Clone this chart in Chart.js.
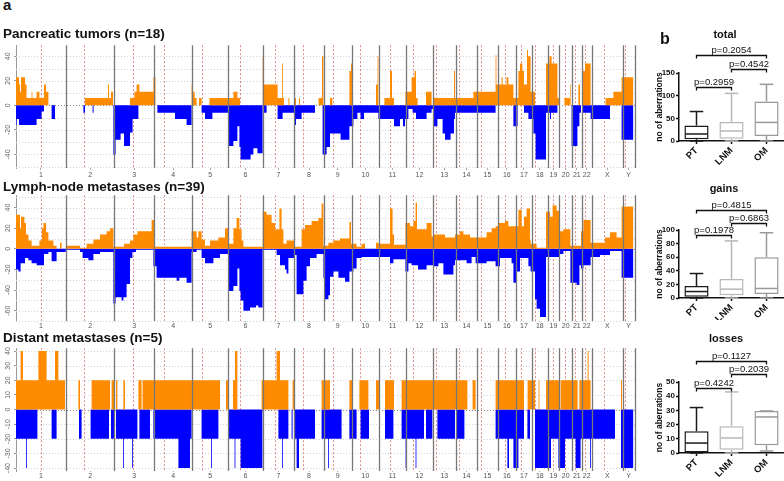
<!DOCTYPE html>
<html lang="en">
<head>
<meta charset="UTF-8">
<title>Copy number aberrations</title>
<script src="https://cdn.jsdelivr.net/npm/chart.js"></script>
<style>
  * { margin: 0; padding: 0; box-sizing: border-box; }
  body { width: 784px; height: 481px; background: #fff; position: relative; overflow: hidden;
         font-family: Arial, "Liberation Sans", sans-serif; }
  canvas { position: absolute; }
  .lbl { position: absolute; font-weight: bold; color: #111; white-space: nowrap; line-height: 1; z-index: 2; }
  .ctr { text-align: center; width: 90px; }
</style>
</head>
<body>

<div class="lbl" style="left:3px;top:-3px;font-size:15px">a</div>
<div class="lbl" style="left:660px;top:31px;font-size:16px">b</div>

<div class="lbl" style="left:3px;top:27px;font-size:13.5px">Pancreatic tumors (n=18)</div>
<div class="lbl" style="left:3px;top:180px;font-size:13.5px">Lymph-node metastases (n=39)</div>
<div class="lbl" style="left:3px;top:331px;font-size:13.5px">Distant metastases (n=5)</div>

<div class="lbl ctr" style="left:680px;top:29px;font-size:11px">total</div>
<div class="lbl ctr" style="left:679px;top:183px;font-size:11px">gains</div>
<div class="lbl ctr" style="left:681px;top:333px;font-size:11px">losses</div>

<canvas id="pt" width="640" height="140" style="left:0;top:40px"></canvas>
<canvas id="lnm" width="640" height="141" style="left:0;top:190px"></canvas>
<canvas id="dm" width="640" height="138" style="left:0;top:343px"></canvas>

<canvas id="bTotal" width="144" height="125" style="left:640px;top:40px"></canvas>
<canvas id="bGains" width="144" height="125" style="left:640px;top:195px"></canvas>
<canvas id="bLosses" width="144" height="135" style="left:640px;top:346px"></canvas>

<script>
// ---- genome layout (Mb) ----
const chromNames = ['1','2','3','4','5','6','7','8','9','10','11','12','13','14','15','16','17','18','19','20','21','22','X','Y'];
const chromLengths = [249,243,198,191,181,171,159,146,141,136,135,134,115,107,103,90,81,78,59,63,48,51,155,59];
const centromeres = [125,93,91,50,48,60,60,45,49,40,53,35,17,17,19,36,24,17,26,28,13,15,60,12];

// ---- % of samples with gain / loss, as [start Mb, value] steps ----
const ptGains = [[0,23],[15,17],[20,11],[25,23],[45,17],[53,6],[78,11],[82,6],[103,11],[117,6],[140,17],[150,11],[162,0],
  [345,6],[460,17],[465,6],[475,11],[485,0],[570,6],[592,11],[603,17],[617,11],[687,23],[697,0],
  [878,17],[885,11],[893,6],[903,0],[915,6],[928,0],[967,6],[1087,11],[1107,6],[1120,0],
  [1233,40],[1240,17],[1308,6],[1330,34],[1334,6],[1340,0],[1362,6],[1367,0],[1395,6],[1400,0],[1415,6],[1420,0],
  [1513,6],[1530,40],[1537,0],[1570,6],[1582,0],[1667,28],[1675,34],[1680,0],[1800,17],[1808,40],[1812,0],
  [1842,6],[1870,28],[1880,6],[1890,0],[1947,11],[1978,23],[1993,28],[2000,6],[2008,0],[2050,11],[2078,0],
  [2087,6],[2190,28],[2195,6],[2287,11],[2398,41],[2402,17],[2428,23],[2433,17],[2453,23],[2462,17],
  [2487,6],[2512,28],[2520,34],[2532,28],[2540,17],[2555,45],[2560,40],[2573,11],[2595,0],
  [2650,34],[2667,40],[2678,34],[2707,6],[2715,0],[2742,6],[2770,17],[2773,0],[2812,17],[2820,0],
  [2832,28],[2845,34],[2873,0],[2948,6],[2987,11],[3028,23],[3087,0]];
const ptLosses = [[0,-16],[3,-11],[15,-16],[103,-11],[128,-5],[140,0],[178,-11],[195,0],
  [337,-6],[345,0],[383,-6],[388,0],[487,-40],[498,-28],[523,-23],[540,-33],[570,-22],[583,-11],[612,0],
  [707,-6],[795,-11],[853,-16],[878,0],[928,-6],[945,-11],[982,-6],
  [1062,-33],[1087,-29],[1107,-17],[1117,-34],[1123,-44],[1173,-40],[1187,-35],[1207,-39],[1233,0],
  [1237,-6],[1253,0],[1308,-11],[1333,-6],[1392,-16],[1400,-11],[1428,-6],[1495,0],
  [1533,-40],[1553,-34],[1570,-23],[1623,-28],[1667,-17],[1687,-11],[1707,-6],[1723,-11],[1740,-6],
  [1812,-11],[1890,-17],[1920,-11],[1935,-17],[1945,-11],[1962,-3],[1983,-6],[2000,-11],[2053,-6],[2078,-3],
  [2087,-17],[2107,-11],[2133,-23],[2145,-28],[2173,-23],[2190,-11],[2195,-6],[2398,0],
  [2487,-17],[2508,0],[2540,-6],[2562,-11],[2587,-23],[2598,-44],[2650,-6],[2670,-11],[2675,-6],[2707,0],
  [2778,-33],[2807,-17],[2817,-6],[2825,0],[2833,-6],[2873,-11],[2970,0],[3028,-28],[3087,0]];

const lnmGains = [[0,33],[20,20],[25,31],[42,25],[50,14],[62,8],[78,3],[117,8],[130,20],[137,25],[150,16],[162,8],[187,3],[203,0],[220,6],[228,0],
  [249,3],[320,1],[353,5],[387,9],[420,14],[453,17],[470,20],[487,2],[540,5],[570,8],[587,14],[607,17],[678,28],[690,2],
  [878,17],[903,11],[912,17],[928,9],[945,3],[970,8],[1012,11],[1045,20],[1062,5],[1087,20],[1103,30],[1117,19],[1128,8],[1137,2],
  [1233,36],[1253,33],[1278,25],[1295,19],[1317,39],[1328,19],[1337,5],[1353,8],[1392,2],[1428,19],[1445,23],[1478,27],[1512,30],[1528,44],
  [1537,3],[1562,6],[1587,8],[1620,10],[1667,26],[1675,5],[1703,2],[1728,5],[1745,0],[1800,6],[1812,5],[1870,39],[1883,14],[1890,4],
  [1947,25],[1970,22],[1987,27],[1998,45],[2005,19],[2053,25],[2078,12],[2087,14],[2145,11],[2195,14],[2220,17],[2237,14],[2270,11],
  [2298,11],[2353,16],[2378,20],[2398,22],[2413,25],[2445,27],[2462,22],[2487,22],[2512,38],[2528,22],[2540,31],[2553,39],[2570,9],
  [2573,5],[2603,1],[2650,36],[2670,31],[2683,42],[2703,37],[2715,17],[2737,19],[2772,3],[2825,17],[2837,28],
  [2873,6],[2945,11],[2970,16],[3003,11],[3028,41],[3087,0]];
const lnmLosses = [[0,-20],[12,-22],[23,-14],[45,-9],[62,-11],[78,-14],[103,-16],[140,-5],[162,-3],[178,-12],[203,-3],
  [249,-1],[320,-3],[333,-9],[362,-11],[387,-5],[420,-3],[487,-53],[498,-47],[528,-50],[537,-47],[553,-34],[570,-9],[582,-3],[600,-1],
  [687,-17],[703,-28],[803,-31],[817,-28],[853,-33],[878,-3],[903,-1],[928,-9],[945,-14],[987,-9],[1020,-5],
  [1062,-41],[1087,-36],[1107,-19],[1117,-41],[1123,-50],[1137,-60],[1170,-57],[1200,-55],[1212,-57],
  [1233,-1],[1303,-6],[1320,-16],[1345,-20],[1353,-24],[1362,-9],[1392,-6],[1403,-44],[1437,-31],[1453,-17],[1470,-9],[1503,-5],
  [1537,-28],[1545,-49],[1562,-45],[1570,-27],[1587,-22],[1612,-28],[1645,-32],[1667,-22],[1687,-19],[1703,-9],[1728,-8],
  [1812,-8],[1870,-14],[1887,-10],[1947,-22],[1962,-14],[1978,-16],[2010,-20],[2053,-16],[2087,-17],[2112,-14],[2137,-25],[2187,-16],
  [2195,-11],[2253,-14],[2278,-8],[2298,-14],[2353,-12],[2398,-17],[2420,-9],[2478,-14],[2487,-33],[2503,-22],[2520,-9],[2562,-17],
  [2573,-22],[2595,-49],[2603,-58],[2620,-66],[2650,-8],[2715,-5],[2737,-2],[2772,-33],[2803,-35],[2817,-16],[2825,-19],[2837,-16],
  [2873,-8],[2920,-6],[2970,-2],[3028,-28],[3087,0]];

const dmGains = [[0,20],[23,40],[35,20],[112,40],[153,20],[195,40],[212,20],[245,0],[312,20],[320,0],[378,20],[470,0],
  [478,20],[495,0],[500,20],[507,0],[537,20],[545,0],[612,20],[628,0],[633,20],[1020,0],[1050,20],[1062,0],
  [1085,20],[1095,40],[1107,0],[1228,20],[1303,40],[1320,20],[1362,0],[1383,20],[1395,0],[1528,20],[1570,0],
  [1667,20],[1682,0],[1717,20],[1762,0],[1800,20],[1817,0],[1845,20],[1890,0],[1928,20],[2257,0],[2283,20],[2298,0],
  [2398,20],[2540,0],[2558,20],[2595,0],[2613,20],[2617,0],[2650,20],[2717,0],[2723,20],[2808,0],[2817,20],[2858,40],[2863,20],[2873,0],
  [3025,20],[3030,0]];
const dmLosses = [[0,-20],[51,-40],[55,-20],[107,0],[178,-20],[203,0],[315,-20],[328,0],[373,-20],[465,0],[475,-20],[495,0],
  [500,-20],[535,-40],[539,-20],[581,-40],[585,-20],[607,0],[617,-20],[670,0],[687,-20],[812,-40],[870,-20],[878,0],
  [928,-20],[976,-40],[980,-20],[1012,0],[1062,-20],[1093,-40],[1097,-20],[1123,-40],[1232,0],
  [1312,-20],[1330,-40],[1334,-20],[1362,0],[1378,-20],[1383,0],[1395,-20],[1403,-40],[1415,-20],[1495,0],
  [1528,-20],[1560,-40],[1564,-20],[1628,0],[1667,-20],[1703,0],[1723,-20],[1765,0],[1845,-20],[1887,0],
  [1928,-20],[1948,-40],[1952,-20],[1998,-40],[2002,-20],[2040,0],[2050,-20],[2082,0],[2107,-20],[2195,0],[2200,-20],[2242,0],
  [2398,-20],[2457,-40],[2465,-20],[2487,-40],[2512,-20],[2540,0],[2557,-20],[2570,0],
  [2595,-40],[2675,-20],[2712,-40],[2745,-20],[2798,-40],[2823,-20],[2871,-40],[2875,-20],[2995,0],[3025,-40],[3087,0]];

const ptTicks = [-40,-20,0,20,40];
const lnmTicks = [-60,-40,-20,0,20,40];
const dmTicks = [-40,-30,-20,-10,0,10,20,30,40];

// ---- panel b: box plots ----
const boxCats = ['PT','LNM','OM'];
const totalStats = { min: [0,0,0], q1: [4,5,11], med: [15.5,22,41], q3: [34,42,87], max: [65,105,125] };
const gainsStats = { min: [0,0,0], q1: [2,4,6], med: [9.5,13,14], q3: [17.6,28,60], max: [36,84,96] };
const lossesStats = { min: [0,0,1.4], q1: [0,2.3,5.4], med: [7,10.6,25.4], q3: [15.3,18.8,29.6], max: [32,43,29.6] };
const totalP = [[0,1,120,'p=0.2959'],[1,2,159,'p=0.4542'],[0,2,190,'p=0.2054']];
const gainsP = [[0,1,92.6,'p=0.1978'],[1,2,110,'p=0.6863'],[0,2,129,'p=0.4815']];
const lossesP = [[0,1,45.6,'p=0.4242'],[1,2,55.4,'p=0.2039'],[0,2,65,'p=0.1127']];

const ORANGE = '#FF8C00';
const BLUE = '#0000FF';
const boxColors = ['#1a1a1a', '#b8b8b8', '#999999'];

Chart.defaults.font.family = 'Arial, "Liberation Sans", sans-serif';
Chart.defaults.color = '#111';

const chromStart = [];
chromLengths.reduce((acc, len, i) => { chromStart[i] = acc; return acc + len; }, 0);
const chromMids = chromLengths.map((len, i) => chromStart[i] + len / 2);
const genomeEnd = chromStart[23] + chromLengths[23];

const genomeLines = {
    id: 'genomeLines',
    beforeDatasetsDraw(chart) {
        const { ctx, chartArea: a, scales: { x, y } } = chart;
        ctx.save();
        ctx.lineWidth = 1;
        ctx.setLineDash([1, 2]);
        for (let v = Math.ceil(y.min / 10) * 10; v <= y.max; v += 10) {
            const py = Math.round(y.getPixelForValue(v)) + 0.5;
            ctx.strokeStyle = v === 0 ? '#8a8a8a' : '#d2d2dc';
            ctx.beginPath(); ctx.moveTo(a.left, py); ctx.lineTo(a.right, py); ctx.stroke();
        }
        // centromeres
        ctx.strokeStyle = '#e08a8a';
        ctx.setLineDash([2, 2]);
        centromeres.forEach((c, i) => {
            const px = Math.round(x.getPixelForValue(chromStart[i] + c)) + 0.5;
            ctx.beginPath(); ctx.moveTo(px, a.top); ctx.lineTo(px, a.bottom); ctx.stroke();
        });
        ctx.restore();
    },
    afterDatasetsDraw(chart) {
        const { ctx, chartArea: a, scales: { x } } = chart;
        ctx.save();
        ctx.strokeStyle = '#777';
        ctx.lineWidth = 1.3;
        chromStart.slice(1).concat([genomeEnd]).forEach(b => {
            const px = Math.round(x.getPixelForValue(b)) + 0.5;
            ctx.beginPath(); ctx.moveTo(px, a.top); ctx.lineTo(px, a.bottom); ctx.stroke();
        });
        ctx.restore();
    }
};

function toPoints(pairs) {
    return pairs.map(p => ({ x: p[0], y: p[1] }));
}

function genomeChart(id, gains, losses, yMin, yMax, yTicks, tickLen, tickPad, axisH) {
    return new Chart(document.getElementById(id), {
        type: 'line',
        data: {
            datasets: [
                { data: toPoints(gains), stepped: true, fill: 'origin', backgroundColor: ORANGE, borderColor: ORANGE, borderWidth: 0, pointRadius: 0 },
                { data: toPoints(losses), stepped: true, fill: 'origin', backgroundColor: BLUE, borderColor: BLUE, borderWidth: 0, pointRadius: 0 }
            ]
        },
        options: {
            responsive: false,
            animation: false,
            events: [],
            layout: { padding: { top: 2, right: 4, left: 0, bottom: 0 } },
            plugins: { legend: { display: false }, tooltip: { enabled: false } },
            scales: {
                x: {
                    type: 'linear', min: 0, max: 3100,
                    afterBuildTicks: s => { s.ticks = chromMids.map(v => ({ value: v })); },
                    afterFit: s => { s.height = axisH; },
                    border: { display: false },
                    grid: { drawOnChartArea: false, tickLength: tickLen, tickColor: '#aaa' },
                    ticks: { autoSkip: false, minRotation: 0, maxRotation: 0, padding: tickPad, color: '#555',
                             font: { size: 7 }, callback: (v, i) => chromNames[i] }
                },
                y: {
                    min: yMin, max: yMax,
                    afterBuildTicks: s => { s.ticks = yTicks.map(v => ({ value: v })); },
                    afterFit: s => { s.width = 16; },
                    border: { color: '#999', width: 1 },
                    grid: { drawOnChartArea: false, tickLength: 2, tickColor: '#999' },
                    ticks: { minRotation: 90, maxRotation: 90, crossAlign: 'center', padding: 1, color: '#666', font: { size: 7 } }
                }
            }
        },
        plugins: [genomeLines]
    });
}

genomeChart('pt', ptGains, ptLosses, -51, 49, ptTicks, 2, 1, 12);
genomeChart('lnm', lnmGains, lnmLosses, -70, 52, lnmTicks, 1, 0, 10);
genomeChart('dm', dmGains, dmLosses, -42, 42, dmTicks, 1, 0, 10);

function boxExtras(stats, brackets) {
    return {
        id: 'boxExtras',
        afterDatasetsDraw(chart) {
            const { ctx, scales: { x, y } } = chart;
            const bars = chart.getDatasetMeta(0).data;
            const line = (x1, y1, x2, y2) => { ctx.beginPath(); ctx.moveTo(x1, y1); ctx.lineTo(x2, y2); ctx.stroke(); };
            ctx.save();
            ctx.lineWidth = 1.5;
            bars.forEach((bar, i) => {
                const cx = bar.x, w = bar.width;
                ctx.strokeStyle = boxColors[i];
                const pMin = y.getPixelForValue(stats.min[i]);
                const pQ1 = y.getPixelForValue(stats.q1[i]);
                const pMed = y.getPixelForValue(stats.med[i]);
                const pQ3 = y.getPixelForValue(stats.q3[i]);
                const pMax = y.getPixelForValue(stats.max[i]);
                line(cx, pQ3, cx, pMax);
                line(cx - w * 0.28, pMax, cx + w * 0.28, pMax);
                line(cx, pQ1, cx, pMin);
                line(cx - w * 0.28, pMin, cx + w * 0.28, pMin);
                line(cx - w / 2 + 1, pMed, cx + w / 2 - 1, pMed);
            });
            ctx.strokeStyle = '#111';
            ctx.fillStyle = '#111';
            ctx.lineWidth = 1.3;
            ctx.font = '9.5px Arial, "Liberation Sans", sans-serif';
            ctx.textAlign = 'center';
            ctx.textBaseline = 'alphabetic';
            brackets.forEach(b => {
                const x1 = x.getPixelForValue(b[0]), x2 = x.getPixelForValue(b[1]);
                const py = Math.round(y.getPixelForValue(b[2])) + 0.5;
                ctx.beginPath();
                ctx.moveTo(x1, py + 3); ctx.lineTo(x1, py); ctx.lineTo(x2, py); ctx.lineTo(x2, py + 3);
                ctx.stroke();
                ctx.fillText(b[3], (x1 + x2) / 2, py - 2.5);
            });
            ctx.restore();
        }
    };
}

function boxChart(id, stats, yMax, yStep, brackets, padTop, axisH) {
    return new Chart(document.getElementById(id), {
        type: 'bar',
        data: {
            labels: boxCats,
            datasets: [{
                data: stats.q1.map((q, i) => [q, stats.q3[i]]),
                backgroundColor: '#fff',
                borderColor: boxColors,
                borderWidth: 1.5,
                borderSkipped: false,
                barPercentage: 0.69,
                categoryPercentage: 1
            }]
        },
        options: {
            responsive: false,
            animation: false,
            events: [],
            layout: { padding: { top: padTop, right: 0, left: 0, bottom: 0 } },
            plugins: { legend: { display: false }, tooltip: { enabled: false } },
            scales: {
                x: {
                    afterFit: s => { s.height = axisH; },
                    border: { color: '#111', width: 1.5 },
                    grid: { drawOnChartArea: false, offset: false, tickLength: 3, tickColor: '#111', tickWidth: 1.5 },
                    ticks: { minRotation: 45, maxRotation: 45, padding: 1, color: '#111', font: { size: 9.5, weight: 'bold' } }
                },
                y: {
                    min: 0, max: yMax,
                    afterFit: s => { s.width = 39; },
                    border: { color: '#111', width: 1.5 },
                    grid: { drawOnChartArea: false, tickLength: 3, tickColor: '#111', tickWidth: 1.5 },
                    ticks: { stepSize: yStep, padding: 1, color: '#111', font: { size: 8, weight: 'bold' } },
                    title: { display: true, text: 'no of aberrations', color: '#111',
                             font: { size: 8.5, weight: 'bold' }, padding: { top: 15, bottom: 0 } }
                }
            }
        },
        plugins: [boxExtras(stats, brackets)]
    });
}

boxChart('bTotal', totalStats, 150, 50, totalP, 33, 24);
boxChart('bGains', gainsStats, 100, 20, gainsP, 35, 22);
boxChart('bLosses', lossesStats, 50, 10, lossesP, 36, 28);
</script>
</body>
</html>
